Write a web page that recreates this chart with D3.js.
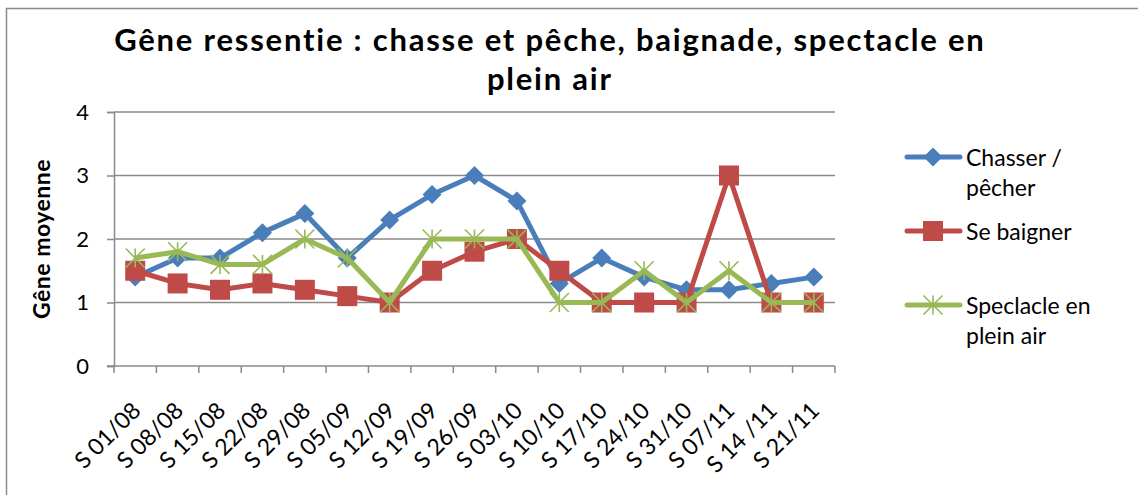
<!DOCTYPE html>
<meta charset="utf-8">
<html>
<head>
<script src="https://d3js.org/d3.v7.min.js"></script>
<style>
    body { margin: 0; background: white; }
    text { font-family: Lato, "Open Sans", sans-serif; fill: black; }
</style>
</head>
<body>
<div id="chart"></div>
<script>

// data
var weeks = ["S 01/08", "S 08/08", "S 15/08", "S 22/08", "S 29/08", "S 05/09", "S 12/09", "S 19/09",
    "S 26/09", "S 03/10", "S 10/10", "S 17/10", "S 24/10", "S 31/10", "S 07/11", "S 14 /11", "S 21/11"];
var chasser = [1.4, 1.7, 1.7, 2.1, 2.4, 1.7, 2.3, 2.7, 3.0, 2.6, 1.3, 1.7, 1.4, 1.2, 1.2, 1.3, 1.4];
var baigner = [1.5, 1.3, 1.2, 1.3, 1.2, 1.1, 1.0, 1.5, 1.8, 2.0, 1.5, 1.0, 1.0, 1.0, 3.0, 1.0, 1.0];
var spectacle = [1.7, 1.8, 1.6, 1.6, 2.0, 1.7, 1.0, 2.0, 2.0, 2.0, 1.0, 1.0, 1.5, 1.0, 1.5, 1.0, 1.0];
var yTicks = [0, 1, 2, 3, 4];

var series = [
    {name: ["Chasser /", "pêcher"], values: chasser, color: "#4a7ebb", marker: "diamond"},
    {name: ["Se baigner"], values: baigner, color: "#be4b48", marker: "square"},
    {name: ["Speclacle en", "plein air"], values: spectacle, color: "#98b954", marker: "star"}
];

var W = 1138, H = 495;
var plot = {left: 114, right: 835, top: 112, bottom: 366};

var svg = d3.select("#chart").append("svg")
    .attr("width", W).attr("height", H);

// outer chart frame (only top and left edges show in the picture)
svg.append("rect")
    .attr("x", 6.5).attr("y", 8.5)
    .attr("width", W + 20).attr("height", H + 20)
    .attr("fill", "white").attr("stroke", "#8c8c8c").attr("stroke-width", 1.5);

var x = d3.scaleBand().domain(weeks).range([plot.left, plot.right]);
var y = d3.scaleLinear().domain([0, 4]).range([plot.bottom, plot.top]);

// gridlines
svg.append("g").selectAll("line")
    .data(yTicks.filter(d => d > 0))
    .join("line")
    .attr("x1", plot.left).attr("x2", plot.right)
    .attr("y1", d => y(d)).attr("y2", d => y(d))
    .attr("stroke", "#8a8a8a").attr("stroke-width", 1.5);

// y axis
var yAxis = svg.append("g")
    .attr("transform", "translate(" + plot.left + ",0)")
    .call(d3.axisLeft(y).tickValues(yTicks).tickSize(7).tickPadding(18).tickFormat(d3.format("d")));
yAxis.selectAll("line, path").attr("stroke", "#8a8a8a").attr("stroke-width", 1.5);
yAxis.selectAll("text").style("font-size", "22px").style("font-family", "Lato, sans-serif");

// x axis: ticks at the band boundaries
var xAxisG = svg.append("g");
xAxisG.append("line")
    .attr("x1", plot.left - 7).attr("x2", plot.right)
    .attr("y1", plot.bottom).attr("y2", plot.bottom)
    .attr("stroke", "#8a8a8a").attr("stroke-width", 1.5);
var bounds = weeks.map(d => x(d)).concat([plot.right]);
xAxisG.selectAll("line.tick")
    .data(bounds)
    .join("line")
    .attr("class", "tick")
    .attr("x1", d => d).attr("x2", d => d)
    .attr("y1", plot.bottom).attr("y2", plot.bottom + 7)
    .attr("stroke", "#8a8a8a").attr("stroke-width", 1.5);
xAxisG.selectAll("text")
    .data(weeks)
    .join("text")
    .attr("transform", d => "translate(" + (x(d) + x.bandwidth() / 2 + 7) + ",412) rotate(-45)")
    .attr("text-anchor", "end")
    .style("font-size", "23px")
    .text(d => d);

// y axis title
svg.append("text")
    .attr("transform", "translate(50,239) rotate(-90)")
    .attr("text-anchor", "middle")
    .style("font-size", "23px").style("font-weight", "bold")
    .style("letter-spacing", "0.5px")
    .text("Gêne moyenne");

// title, two lines, stretched to the width of the original
var t1 = svg.append("text")
    .attr("x", 549).attr("y", 51)
    .attr("text-anchor", "middle")
    .style("font-size", "31px").style("font-weight", "bold")
    .text("Gêne ressentie : chasse et pêche, baignade, spectacle en");
var len = t1.node().getComputedTextLength();
var n = t1.text().length;
var ls = Math.max(0, (872 - len) / n);
t1.style("letter-spacing", ls + "px").attr("x", 549 + ls / 2);
svg.append("text")
    .attr("x", 549 + ls / 2).attr("y", 90)
    .attr("text-anchor", "middle")
    .style("font-size", "31px").style("font-weight", "bold")
    .style("letter-spacing", ls + "px")
    .text("plein air");

// marker drawing helper
function drawMarker(g, type, color) {
    if (type === "diamond") {
        g.append("path").attr("d", "M0,-9.5L9.5,0L0,9.5L-9.5,0Z").attr("fill", color);
    } else if (type === "square") {
        g.append("rect").attr("x", -10).attr("y", -10).attr("width", 20).attr("height", 20).attr("fill", color);
    } else {
        var s = 9.5;
        g.append("path")
            .attr("d", "M" + -s + "," + -s + "L" + s + "," + s + "M" + -s + "," + s + "L" + s + "," + -s +
                "M0," + -s + "L0," + s)
            .attr("stroke", color).attr("stroke-width", 1.6).attr("fill", "none");
    }
}

var line = d3.line()
    .x((d, i) => x(weeks[i]) + x.bandwidth() / 2)
    .y(d => y(d));

series.forEach(function(s) {
    svg.append("path")
        .attr("d", line(s.values))
        .attr("fill", "none")
        .attr("stroke", s.color).attr("stroke-width", 5)
        .attr("stroke-linejoin", "round");
    s.values.forEach(function(v, i) {
        var g = svg.append("g")
            .attr("transform", "translate(" + (x(weeks[i]) + x.bandwidth() / 2) + "," + y(v) + ")");
        drawMarker(g, s.marker, s.color);
    });
});

// legend
var legendY = [157, 231, 305];
series.forEach(function(s, i) {
    var g = svg.append("g").attr("transform", "translate(0," + legendY[i] + ")");
    g.append("line")
        .attr("x1", 907).attr("x2", 960)
        .attr("stroke", s.color).attr("stroke-width", 5).attr("stroke-linecap", "round");
    drawMarker(g.append("g").attr("transform", "translate(933,0)"), s.marker, s.color);
    s.name.forEach(function(t, j) {
        g.append("text")
            .attr("x", 966).attr("y", 9 + j * 30)
            .style("font-size", "23px")
            .text(t);
    });
});

</script>
</body>
</html>
